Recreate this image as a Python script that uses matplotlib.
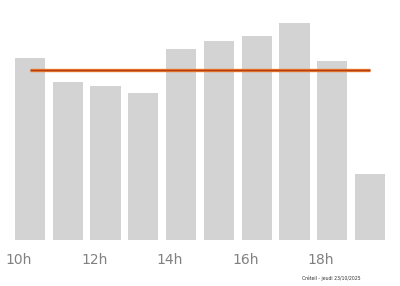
import matplotlib
matplotlib.use("Agg")
import matplotlib.pyplot as plt
import numpy as np

# hourly values (arbitrary units)
hours = [10, 11, 12, 13, 14, 15, 16, 17, 18, 19]
values = [182, 158, 154, 147, 191, 199, 204, 217, 179, 66]
tick_hours = [10, 12, 14, 16, 18]
tick_labels = ["10h", "12h", "14h", "16h", "18h"]
caption = "Créteil - jeudi 23/10/2025"

mean_val = np.mean(values)

fig = plt.figure(figsize=(4, 2.86), dpi=100)
ax = fig.add_axes([0, 46 / 286, 1, 230 / 286])

ax.bar(hours, values, width=0.8, color="#d3d3d3", zorder=1)
ax.plot([hours[0], hours[-1]], [mean_val, mean_val], color="#e8782a",
        linewidth=2.4, solid_capstyle="butt", zorder=2)
ax.plot([hours[0], hours[-1]], [mean_val, mean_val], color="#b0401a",
        linewidth=0.9, solid_capstyle="butt", zorder=3)

ax.set_xlim(10 - 30 / 37.78, 10 + 370 / 37.78)
ax.set_ylim(0, 230)
ax.set_xticks([h - 0.3 for h in tick_hours])
ax.set_xticklabels(tick_labels, color="#808080", fontsize=10)
ax.tick_params(axis="x", length=0, pad=9)
ax.set_yticks([])
for s in ax.spines.values():
    s.set_visible(False)

fig.text(0.755, 1 - 278 / 286, caption, fontsize=3.3, color="#333333",
         va="center", ha="left")

fig.savefig("out.png", dpi=100)
